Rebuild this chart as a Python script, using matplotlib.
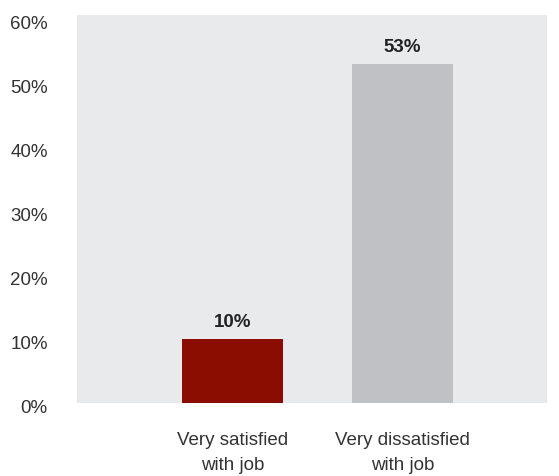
import matplotlib
matplotlib.use("Agg")
import matplotlib.pyplot as plt
import matplotlib.transforms as mtransforms

plt.rcParams['font.family'] = ['Liberation Sans', 'DejaVu Sans']

categories = ["Very satisfied\nwith job", "Very dissatisfied\nwith job"]
values = [10, 53]
value_labels = ["10%", "53%"]
yticks = [0, 10, 20, 30, 40, 50, 60]
ytick_labels = ["0%", "10%", "20%", "30%", "40%", "50%", "60%"]
colors = ["#8B0D02", "#C0C1C5"]

W, H = 559, 477
fig = plt.figure(figsize=(W/100, H/100), dpi=100)
ax = fig.add_axes([77/W, 1-404/H, 470/W, (404-16)/H])
ax.set_facecolor("#E9EAEC")
x = list(range(len(categories)))
bars = ax.bar(x, values, width=0.594, color=colors, zorder=2)
for xi, v, lab in zip(x, values, value_labels):
    ax.annotate(lab, (xi, v), xytext=(0, 6.5), textcoords="offset points",
                ha="center", va="bottom", fontsize=13.5, fontweight="bold", color="#222222")
ax.set_xlim(-0.915, 1.85)
ax.set_ylim(0, 60.6)
ax.set_yticks(yticks)
ax.set_yticklabels(ytick_labels)
ax.set_xticks(x)
ax.set_xticklabels(categories, linespacing=1.55)
for s in ax.spines.values():
    s.set_visible(False)
ax.tick_params(axis="y", length=0, pad=21, labelsize=13.5, labelcolor="#333333")
ax.tick_params(axis="x", length=0, pad=20.5, labelsize=13.5, labelcolor="#333333")
off = mtransforms.ScaledTranslation(0, -3/100, fig.dpi_scale_trans)
for t in ax.get_yticklabels():
    t.set_transform(t.get_transform() + off)
fig.savefig("out.png", dpi=100)
